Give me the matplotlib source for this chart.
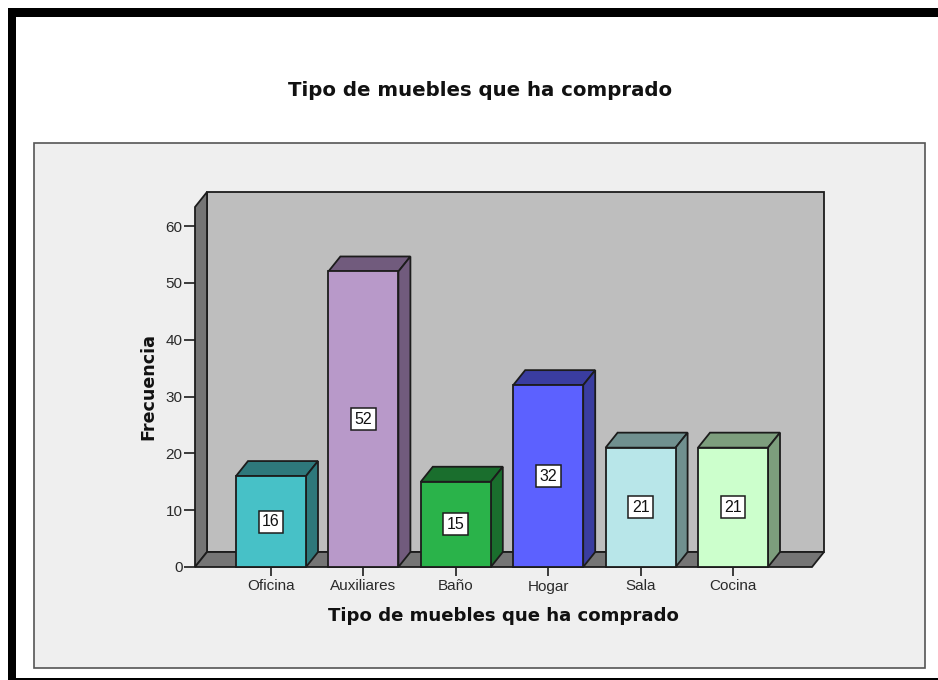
import matplotlib
matplotlib.use("Agg")
import matplotlib.pyplot as plt
from matplotlib.patches import Polygon, Rectangle

plt.rcParams['font.family'] = ['Liberation Sans', 'DejaVu Sans']

categories = ["Oficina", "Auxiliares", "Baño", "Hogar", "Sala", "Cocina"]
values = [16, 52, 15, 32, 21, 21]
yticks = [0, 10, 20, 30, 40, 50, 60]
front_colors = ["#47C1C7", "#B899C9", "#2AB34A", "#5C61FF", "#B8E6E9", "#CCFFCC"]
side_colors = ["#2E787B", "#715B7D", "#1A6E2D", "#3A3DA0", "#70908F", "#7D9E7D"]
title = "Tipo de muebles que ha comprado"
xlabel = "Tipo de muebles que ha comprado"
ylabel = "Frecuencia"

W, H = 938, 680
EDGE = "#1c1c1c"

fig = plt.figure(figsize=(W / 100, H / 100), dpi=100, facecolor="white")


def box(x0, y0, x1, y1, **kw):
    # rectangle given in image pixels, y going down
    fig.add_artist(Rectangle((x0 / W, 1 - y1 / H), (x1 - x0) / W, (y1 - y0) / H,
                             transform=fig.transFigure, **kw))


# black frame of the screenshot
box(8, 8, 938, 17, fc="black", ec="none")
box(8, 8, 16, 680, fc="black", ec="none")
box(8, 678, 938, 680, fc="black", ec="none")
# grey chart panel
box(34, 143, 925, 668, fc="#EFEFEF", ec="#555555", lw=1.2)

# axes is the front plane of the 3d box
left, right, bottom, top = 195, 812, 567, 207
ax = fig.add_axes([left / W, 1 - bottom / H, (right - left) / W, (bottom - top) / H])
ax.set_zorder(5)
px_x = 92.4
px_y = 5.683
ax.set_xlim(-(271 - left) / px_x, (right - 271) / px_x)
ax.set_ylim(0, (bottom - top) / px_y)
ax.patch.set_visible(False)
for s in ax.spines.values():
    s.set_visible(False)

dx = 12 / px_x
dy = 15 / px_y
x0, x1 = ax.get_xlim()
y1 = ax.get_ylim()[1]
lw = 1.3

ax.add_patch(Polygon([(x0 + dx, dy), (x1 + dx, dy), (x1 + dx, y1 + dy), (x0 + dx, y1 + dy)],
                     fc="#BEBEBE", ec=EDGE, lw=lw, clip_on=False, zorder=1))
ax.add_patch(Polygon([(x0, 0), (x0 + dx, dy), (x0 + dx, y1 + dy), (x0, y1)],
                     fc="#757575", ec=EDGE, lw=lw, clip_on=False, zorder=1))
ax.add_patch(Polygon([(x0, 0), (x1, 0), (x1 + dx, dy), (x0 + dx, dy)],
                     fc="#757575", ec=EDGE, lw=lw, clip_on=False, zorder=1))

bw = 70 / px_x
for i, v in enumerate(values):
    a, b = i - bw / 2, i + bw / 2
    ax.add_patch(Polygon([(a, v), (b, v), (b + dx, v + dy), (a + dx, v + dy)],
                         fc=side_colors[i], ec=EDGE, lw=lw, clip_on=False, zorder=2))
    ax.add_patch(Polygon([(b, 0), (b + dx, dy), (b + dx, v + dy), (b, v)],
                         fc=side_colors[i], ec=EDGE, lw=lw, clip_on=False, zorder=2))
    ax.add_patch(Rectangle((a, 0), bw, v, fc=front_colors[i], ec=EDGE, lw=lw,
                           clip_on=False, zorder=3))
    ax.text(i, v / 2, str(v), ha="center", va="center", fontsize=11.5, color="#111111", zorder=4,
            bbox=dict(boxstyle="square,pad=0.22", fc="white", ec=EDGE, lw=1.1))

ax.set_xticks(range(len(categories)), categories)
ax.set_yticks(yticks)
ax.tick_params(axis="x", length=6.5, width=1.2, color=EDGE, labelsize=11, labelcolor="#2a2a2a", pad=2.5)
ax.tick_params(axis="y", length=8, width=1.2, color=EDGE, labelsize=11, labelcolor="#2a2a2a", pad=1)

title_font = ['DejaVu Sans']
fig.text(480 / W, 1 - 91 / H, title, ha="center", va="center", fontsize=14.2, family=title_font,
         fontweight="bold", color="#111111")
fig.text(503 / W, 1 - 616 / H, xlabel, ha="center", va="center", fontsize=13.1, family=title_font,
         fontweight="bold", color="#111111")
fig.text(148 / W, 1 - 386 / H, ylabel, ha="center", va="center", rotation=90, fontsize=12.6,
         family=title_font, fontweight="bold", color="#111111")

fig.savefig("out.png", dpi=100, facecolor="white")
